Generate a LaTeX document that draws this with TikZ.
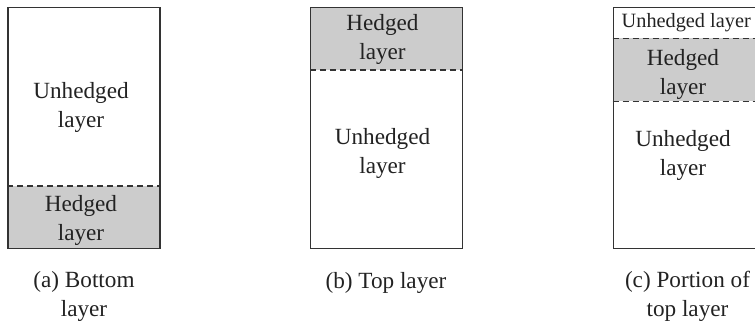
\documentclass[tikz,border=0pt]{standalone}
\usepackage{fontspec}
\setmainfont{Liberation Serif}
\definecolor{hedge}{HTML}{CCCCCC}
\definecolor{edge}{HTML}{333333}
\definecolor{ink}{HTML}{222222}
\begin{document}
\begin{tikzpicture}[x=1pt,y=-1pt,
  frame/.style={draw=edge,line width=1.3pt,minimum width=152pt,minimum height=241pt,inner sep=0pt,anchor=north west},
  divider/.style={draw=edge,line width=1.2pt,dash pattern=on 6pt off 4pt},
  lbl/.style={text=ink,align=center,font=\fontsize{23.2}{29}\selectfont,inner sep=0pt},
  smalllbl/.style={text=ink,align=center,font=\fontsize{20.3}{22}\selectfont,inner sep=0pt},
  caption/.style={text=ink,align=center,font=\fontsize{23.2}{29}\selectfont,inner sep=0pt}]
\useasboundingbox (0,0) rectangle (755,322);
% (a)
\fill[hedge] (7.3,186) rectangle (159.3,248);
\draw[divider] (7.3,186) -- (159.3,186);
\node[frame] (boxa) at (7.3,7) {};
\node[lbl] (ua) at (81,107) {Unhedged\\layer};
\node[lbl] (ha) at (81,220) {Hedged\\layer};
\node[caption] (ca) at (84,296.5) {(a) Bottom\\layer};
% (b)
\fill[hedge] (310,7) rectangle (462,70);
\draw[divider] (310,70) -- (462,70);
\node[frame] (boxb) at (310,7) {};
\node[lbl] (hb) at (382.5,39) {Hedged\\layer};
\node[lbl] (ub) at (382.5,153.5) {Unhedged\\layer};
\node[caption] (cb) at (386,283) {(b) Top layer};
% (c)
\fill[hedge] (612.7,38.3) rectangle (764.7,101.3);
\draw[divider] (612.7,38.3) -- (764.7,38.3);
\draw[divider] (612.7,101.3) -- (764.7,101.3);
\node[frame] (boxc) at (612.7,7) {};
\node[smalllbl,anchor=west] (uc1) at (621.5,22.5) {Unhedged layer};
\node[lbl] (hc) at (683,74.5) {Hedged\\layer};
\node[lbl] (uc2) at (683,155.5) {Unhedged\\layer};
\node[caption] (cc) at (687.5,296.5) {(c) Portion of\\top layer};
\end{tikzpicture}
\end{document}
